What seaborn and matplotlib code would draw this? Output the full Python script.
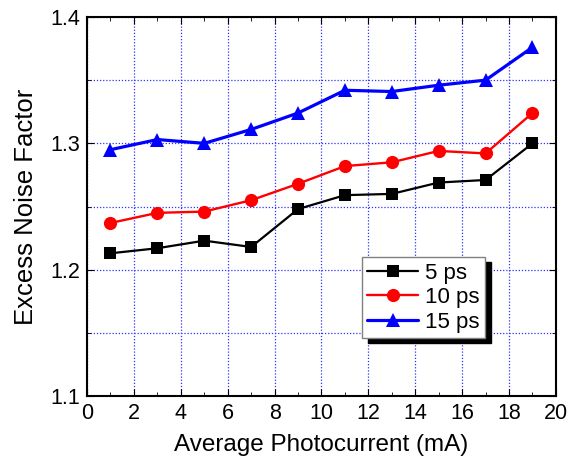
import numpy as np
import pandas as pd
import matplotlib
matplotlib.use("Agg")
import matplotlib.pyplot as plt
import seaborn as sns
from matplotlib.ticker import MultipleLocator
from matplotlib.patches import Rectangle

photocurrent = [1, 3, 5, 7, 9, 11, 13, 15, 17, 19]
enf_5ps = [1.213, 1.217, 1.223, 1.218, 1.248, 1.259, 1.260, 1.269, 1.271, 1.300]
enf_10ps = [1.237, 1.245, 1.246, 1.255, 1.268, 1.282, 1.285, 1.294, 1.292, 1.324]
enf_15ps = [1.295, 1.303, 1.300, 1.311, 1.324, 1.342, 1.341, 1.346, 1.350, 1.376]
series_labels = ["5 ps", "10 ps", "15 ps"]

df = pd.DataFrame({
    "x": photocurrent * 3,
    "y": enf_5ps + enf_10ps + enf_15ps,
    "pulse": np.repeat(series_labels, len(photocurrent)),
})

sns.set_style("ticks", {"axes.edgecolor": "black", "text.color": "black",
                        "axes.labelcolor": "black", "xtick.color": "black",
                        "ytick.color": "black"})
plt.rcParams["font.family"] = ["Liberation Sans", "DejaVu Sans"]

fig = plt.figure(figsize=(5.69, 4.71), dpi=100)
ax = fig.add_axes([0.153, 0.159, 0.824, 0.805])

sns.lineplot(data=df, x="x", y="y", hue="pulse", style="pulse",
             palette=["black", "red", "blue"], markers=["s", "o", "^"],
             dashes=False, markersize=9, linewidth=2, markeredgewidth=0, ax=ax)

# per-series line widths / marker sizes like the original
widths = [1.6, 1.7, 2.3]
msizes = [8.5, 9.5, 10.5]
for line, lw, ms in zip(ax.lines[:3], widths, msizes):
    line.set_linewidth(lw)
    line.set_markersize(ms)

ax.set_xlim(0, 20)
ax.set_ylim(1.1, 1.4)
ax.xaxis.set_major_locator(MultipleLocator(2))
ax.xaxis.set_minor_locator(MultipleLocator(1))
ax.yaxis.set_major_locator(MultipleLocator(0.1))
ax.yaxis.set_minor_locator(MultipleLocator(0.05))
ax.set_yticks([1.1, 1.2, 1.3, 1.4], ["1.1", "1.2", "1.3", "1.4"])
ax.tick_params(which="both", direction="in", top=True, right=True, labelsize=15.5,
               colors="black")
ax.tick_params(which="major", length=5, pad=5)
ax.tick_params(which="minor", length=3)
grid_style = dict(color="#3030ff", linestyle=(0, (1, 1.5)), linewidth=0.9)
ax.grid(True, which="major", axis="x", **grid_style)
ax.grid(True, which="both", axis="y", **grid_style)
for s in ax.spines.values():
    s.set_linewidth(1.5)
    s.set_color("black")

ax.set_xlabel("Average Photocurrent (mA)", fontsize=17.5, labelpad=7, color="black")
ax.set_ylabel("Excess Noise Factor", fontsize=18.5, labelpad=9, color="black")

handles, labels = ax.get_legend_handles_labels()
for h, lw, ms in zip(handles, widths, msizes):
    h.set_linewidth(lw)
    h.set_markersize(ms)
leg = ax.legend(handles, labels, loc="lower right", bbox_to_anchor=(0.849, 0.153),
                fontsize=16, frameon=True, fancybox=False, shadow=False,
                edgecolor="gray", framealpha=1, handlelength=2.3,
                borderpad=0.25, labelspacing=0.15, handletextpad=0.3,
                borderaxespad=0, labelcolor="black")
leg.get_frame().set_linewidth(1)
leg.set_zorder(10)

# hard black drop shadow behind the legend box
fig.canvas.draw()
bb = leg.get_window_extent().transformed(ax.transAxes.inverted())
dx, dy = 6 / 469, 5 / 379
ax.add_patch(Rectangle((bb.x0 + dx, bb.y0 - dy), bb.width, bb.height,
                       transform=ax.transAxes, color="black", zorder=9,
                       clip_on=False))

fig.savefig("out.png", dpi=100)
